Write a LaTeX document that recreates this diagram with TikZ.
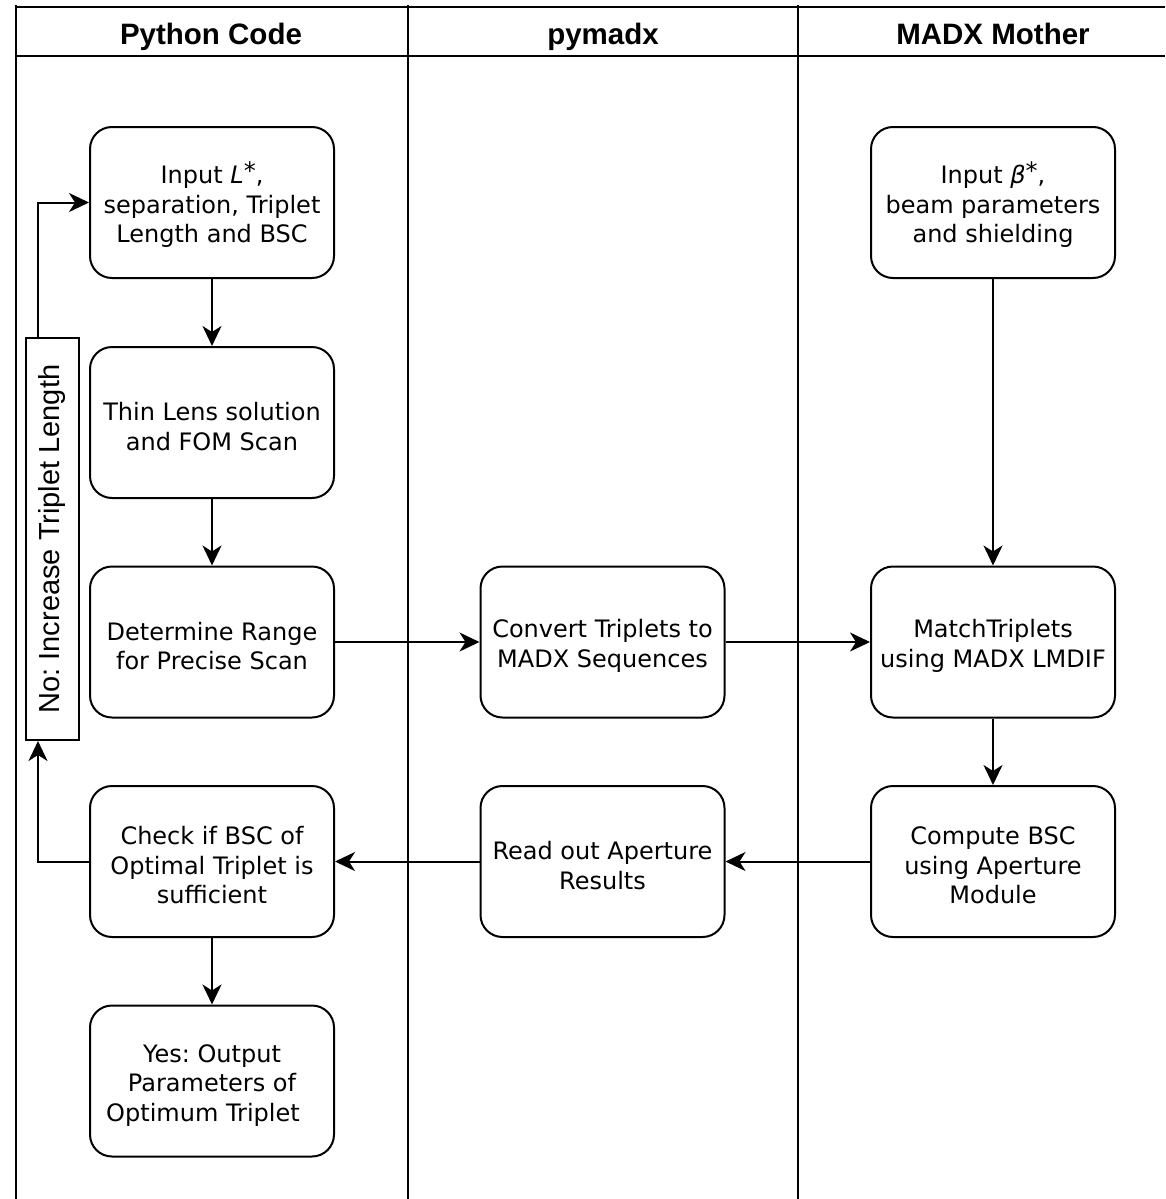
\documentclass[tikz,border=0pt]{standalone}
\usepackage{fontspec}
\usepackage{graphicx}
\setmainfont{DejaVu Sans}[ItalicFont={DejaVu Sans Oblique},BoldFont={DejaVu Sans Bold}]
\newfontfamily\headfont{Liberation Sans}
\usetikzlibrary{arrows.meta}
\frenchspacing
% taller first line so the text block sits a little low in its box
\newcommand{\firstline}{\rule{0pt}{26pt}}

\begin{document}
\begin{tikzpicture}[x=1pt,y=-1pt,
  lane/.style={line width=2pt},
  stepbox/.style={draw, line width=2pt, rounded corners=22pt,
    minimum width=244pt, minimum height=151pt, inner sep=0pt,
    align=center, font=\fontsize{24}{29.5}\selectfont},
  flow/.style={line width=2pt, -{Stealth[length=20pt,width=19pt,inset=6pt]}},
  head/.style={anchor=base, font=\headfont\bfseries\fontsize{29.5}{34}\selectfont},
  notebox/.style={draw, line width=2pt, minimum width=53pt, minimum height=402pt,
    inner sep=0pt, font=\headfont\fontsize{29}{34}\selectfont}]

\useasboundingbox (0,0) rectangle (1165,1199);

% swimlane frame
\draw[lane] (16,7) -- (1165,7);
\draw[lane] (16,56) -- (1165,56);
\draw[lane] (16,5) -- (16,1199);
\draw[lane] (408,5) -- (408,1199);
\draw[lane] (798,5) -- (798,1199);

% lane titles
\node[head] (hpy)  at (211,45) {Python Code};
\node[head] (hpym) at (603,45) {pymadx};
\node[head] (hmad) at (993,45) {MADX Mother};

% Python Code lane
\node[stepbox] (inp)   at (212,202.5) {\firstline Input {\itshape L}\raisebox{4pt}{*},\\separation, Triplet\\Length and BSC};
\node[stepbox] (thin)  at (212,422.5) {\firstline Thin Lens solution\\and FOM Scan};
\node[stepbox] (range) at (212,642)   {\firstline Determine Range\\for Precise Scan};
\node[stepbox] (check) at (212,861.5) {\firstline Check if BSC of\\Optimal Triplet is\\sufficient};
\node[stepbox] (out)   at (212,1081)  {\firstline Yes: Output\\Parameters of\\Optimum Triplet\hspace*{18pt}};

% pymadx lane
\node[stepbox] (conv) at (602.5,642)   {\firstline Convert Triplets to\\MADX Sequences};
\node[stepbox] (read) at (602.5,861.5) {\firstline Read out Aperture\\Results};

% MADX Mother lane
\node[stepbox] (beta)  at (993,202.5) {\firstline Input {\itshape β}\raisebox{4pt}{*},\\beam parameters\\and shielding};
\node[stepbox] (match) at (993,642)   {\firstline MatchTriplets\\using MADX LMDIF};
\node[stepbox] (bsc)   at (993,861.5) {\firstline Compute BSC\\using Aperture\\Module};

% feedback label
\node[notebox] (incr) at (52.5,539) {\rotatebox{90}{No: Increase Triplet Length}};

% connectors
\draw[flow] (inp) -- (thin);
\draw[flow] (thin) -- (range);
\draw[flow] (range) -- (conv);
\draw[flow] (conv) -- (match);
\draw[flow] (beta) -- (match);
\draw[flow] (match) -- (bsc);
\draw[flow] (bsc) -- (read);
\draw[flow] (read) -- (check);
\draw[flow] (check) -- (out);
\draw[flow] (check.west) -| ([xshift=-14.5pt]incr.south);
\draw[flow] ([xshift=-14.5pt]incr.north) |- (inp.west);
\end{tikzpicture}
\end{document}
